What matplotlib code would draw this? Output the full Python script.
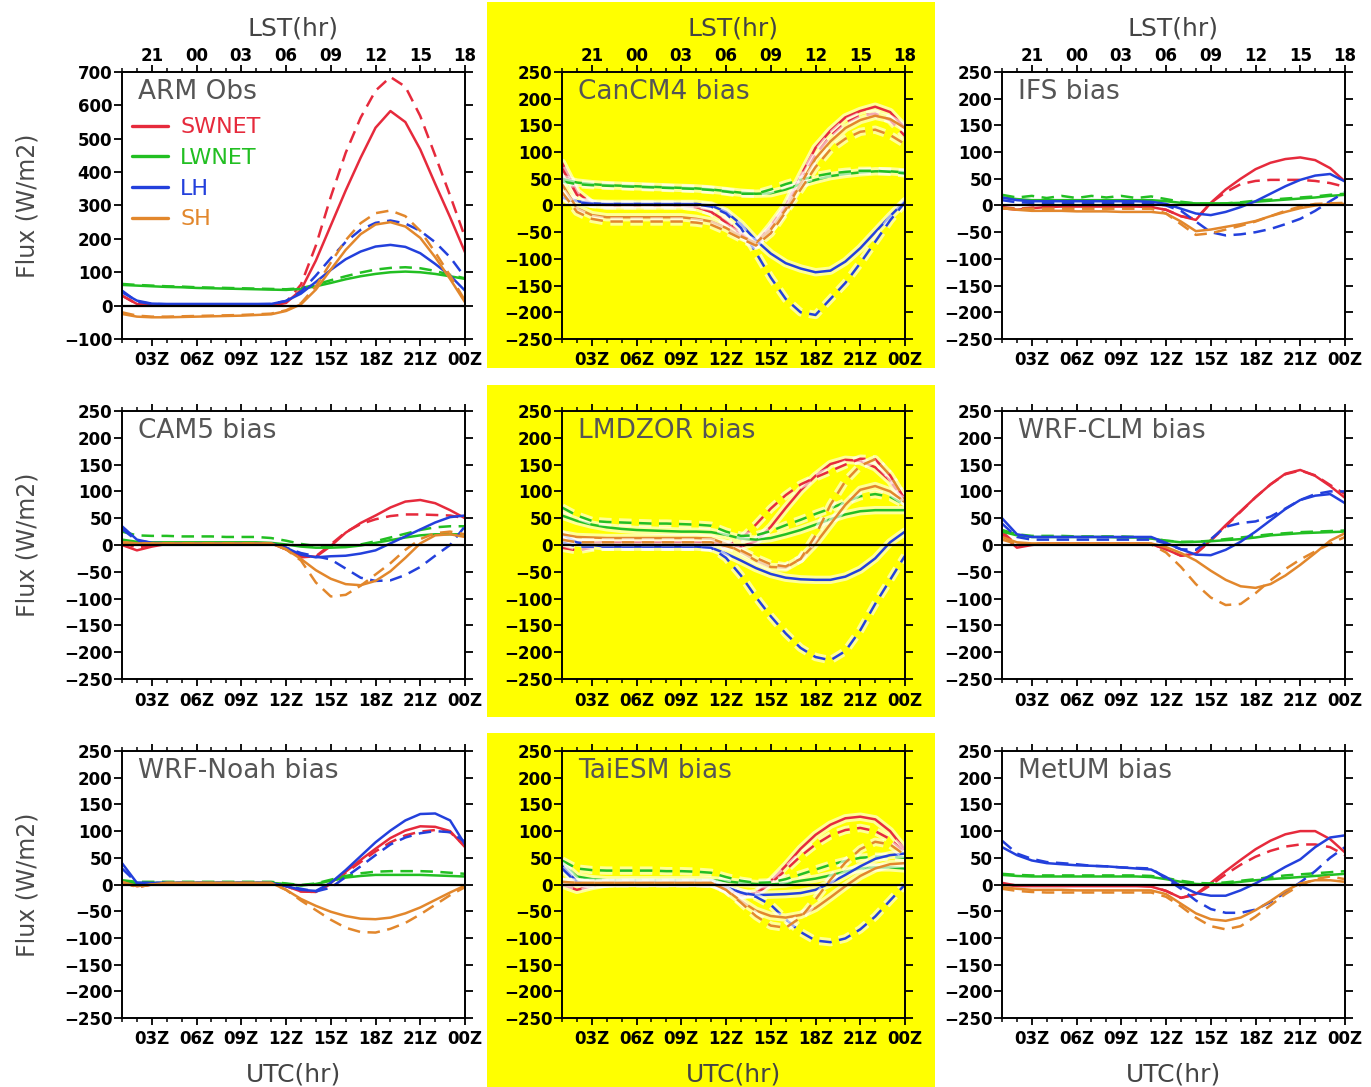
import matplotlib
matplotlib.use("Agg")
import matplotlib.pyplot as plt
import matplotlib.patheffects as pe
from matplotlib.patches import Rectangle

plt.rcParams["font.family"] = ["DejaVu Sans"]

# ---- data -----------------------------------------------------------------
hours = list(range(1, 25))                       # hourly means, UTC
utc_ticks = [3, 6, 9, 12, 15, 18, 21, 24]
utc_labels = ["03Z", "06Z", "09Z", "12Z", "15Z", "18Z", "21Z", "00Z"]
lst_labels = ["21", "00", "03", "06", "09", "12", "15", "18"]
variables = ["SWNET", "LWNET", "LH", "SH"]
var_colors = {"SWNET": "#e62a3c", "LWNET": "#22bf22", "LH": "#2340dc", "SH": "#e2872c"}

arm_solid = {
    "SWNET": [30, 5, 0, 0, 0, 0, 0, 0, 0, 0, 0, 8, 47, 135, 240, 345, 443, 533, 583, 550, 468, 365, 265, 160],
    "LWNET": [62, 60, 58, 56, 55, 53, 52, 51, 50, 49, 48, 47, 50, 58, 68, 79, 88, 95, 100, 102, 100, 95, 88, 80],
    "LH": [40, 15, 6, 5, 5, 5, 5, 5, 5, 5, 5, 14, 36, 71, 107, 139, 162, 177, 182, 176, 157, 125, 90, 45],
    "SH": [-25, -33, -35, -35, -34, -33, -32, -31, -30, -28, -26, -16, 4, 48, 108, 167, 214, 243, 250, 237, 203, 145, 80, 10],
}
arm_dashed = {
    "SWNET": [30, 5, 0, 0, 0, 0, 0, 0, 0, 0, 0, 10, 63, 180, 326, 458, 563, 644, 685, 656, 568, 450, 330, 205],
    "LWNET": [65, 62, 60, 58, 57, 55, 54, 53, 52, 51, 50, 49, 52, 63, 76, 88, 99, 108, 113, 115, 112, 104, 92, 82],
    "LH": [45, 12, 5, 4, 4, 4, 4, 4, 4, 4, 5, 14, 42, 90, 142, 191, 227, 248, 255, 246, 224, 190, 145, 85],
    "SH": [-20, -30, -33, -33, -32, -31, -30, -29, -28, -26, -24, -14, 7, 58, 129, 196, 247, 277, 285, 268, 224, 160, 90, 15],
}

cancm4_solid = {
    "SWNET": [80, 25, 3, 0, 0, 0, 0, 0, 0, -3, -12, -30, -52, -72, -38, 0, 55, 108, 140, 165, 177, 185, 175, 145],
    "LWNET": [50, 43, 40, 38, 37, 36, 35, 34, 33, 32, 30, 27, 24, 22, 23, 30, 40, 48, 55, 59, 62, 64, 64, 62],
    "LH": [20, 8, 4, 3, 3, 3, 3, 3, 3, 3, 0, -12, -35, -65, -90, -108, -118, -125, -122, -105, -80, -50, -20, 8],
    "SH": [40, -5, -18, -22, -22, -22, -22, -22, -22, -25, -30, -42, -58, -70, -45, -8, 40, 88, 120, 145, 160, 168, 162, 145],
}
cancm4_dashed = {
    "SWNET": [70, 20, 3, 0, 0, 0, 0, 0, 0, -3, -12, -32, -55, -75, -45, -5, 45, 95, 130, 155, 168, 172, 160, 130],
    "LWNET": [45, 40, 38, 37, 36, 35, 34, 33, 32, 31, 29, 26, 22, 22, 30, 40, 48, 55, 60, 63, 65, 65, 63, 60],
    "LH": [15, 6, 3, 2, 2, 2, 2, 2, 2, 2, -2, -15, -42, -88, -135, -175, -200, -205, -175, -145, -108, -68, -28, 6],
    "SH": [25, -12, -25, -30, -30, -30, -30, -30, -30, -32, -36, -48, -62, -75, -52, -12, 30, 72, 105, 125, 138, 142, 132, 115],
}

ifs_solid = {
    "SWNET": [-5, -8, -5, -3, -2, -2, -2, -2, -2, -2, -3, -8, -20, -27, 5, 30, 50, 68, 80, 87, 90, 85, 70, 45],
    "LWNET": [15, 12, 10, 10, 10, 10, 10, 10, 10, 10, 10, 8, 5, 4, 4, 4, 5, 7, 9, 11, 13, 15, 18, 20],
    "LH": [15, 10, 8, 8, 8, 8, 8, 8, 8, 8, 7, 3, -6, -15, -18, -12, -3, 8, 22, 36, 48, 56, 59, 45],
    "SH": [-5, -8, -10, -10, -10, -11, -11, -11, -12, -12, -12, -15, -30, -48, -45, -40, -35, -29, -20, -12, -5, 0, 3, 3],
}
ifs_dashed = {
    "SWNET": [-3, -6, -4, -3, -2, -2, -2, -2, -2, -2, -3, -8, -20, -25, 5, 25, 40, 46, 48, 48, 48, 46, 42, 35],
    "LWNET": [20, 15, 18, 14, 18, 14, 18, 15, 18, 14, 17, 12, 7, 4, 3, 4, 6, 9, 11, 13, 15, 17, 20, 22],
    "LH": [10, 6, 5, 5, 5, 5, 5, 5, 5, 5, 4, 0, -10, -30, -50, -56, -54, -50, -44, -35, -25, -10, 8, 25],
    "SH": [-5, -6, -6, -6, -6, -6, -6, -6, -6, -6, -6, -15, -35, -55, -52, -45, -38, -30, -20, -10, -2, 3, 4, 5],
}

cam5_solid = {
    "SWNET": [0, -10, -3, 2, 3, 3, 3, 3, 3, 3, 3, -8, -20, -22, -2, 23, 41, 55, 70, 81, 84, 78, 65, 50],
    "LWNET": [10, 6, 5, 5, 5, 5, 5, 5, 5, 5, 4, 1, -3, -5, -5, -4, -1, 4, 9, 14, 18, 20, 20, 20],
    "LH": [35, 10, 4, 3, 3, 3, 3, 3, 3, 3, 3, -5, -18, -23, -21, -20, -16, -10, 3, 16, 29, 42, 52, 55],
    "SH": [5, 3, 3, 3, 3, 3, 3, 3, 3, 3, 3, -8, -26, -47, -63, -73, -75, -67, -49, -24, 3, 18, 20, 15],
}
cam5_dashed = {
    "SWNET": [5, -5, 0, 2, 3, 3, 3, 3, 3, 3, 3, -8, -23, -21, 1, 24, 39, 48, 54, 57, 57, 56, 55, 50],
    "LWNET": [25, 18, 17, 17, 16, 16, 16, 15, 15, 15, 13, 8, 2, -2, -3, -2, 1, 7, 14, 21, 28, 33, 35, 35],
    "LH": [30, 8, 4, 3, 3, 3, 3, 3, 3, 3, 3, -5, -15, -21, -27, -44, -61, -67, -66, -56, -41, -20, 0, 35],
    "SH": [5, 3, 3, 3, 3, 3, 3, 3, 3, 3, 3, -8, -29, -70, -96, -93, -76, -55, -34, -9, 11, 22, 25, 20],
}

lmdzor_solid = {
    "SWNET": [10, 5, 5, 5, 5, 5, 5, 5, 5, 5, 5, 2, -3, 7, 34, 69, 102, 129, 151, 159, 157, 145, 120, 80],
    "LWNET": [55, 45, 38, 33, 30, 28, 27, 26, 25, 25, 24, 19, 12, 10, 13, 20, 28, 38, 48, 57, 63, 65, 65, 65],
    "LH": [20, 5, 0, -3, -3, -3, -3, -3, -3, -3, -5, -16, -29, -43, -54, -61, -64, -65, -65, -59, -46, -25, 5, 25],
    "SH": [20, 15, 14, 13, 13, 13, 13, 13, 13, 13, 12, 2, -13, -29, -41, -42, -26, 3, 39, 75, 103, 110, 100, 80],
}
lmdzor_dashed = {
    "SWNET": [-5, -10, -5, -3, -3, -3, -3, -3, -3, -3, -3, -2, 11, 38, 68, 93, 113, 126, 138, 150, 161, 160, 130, 85],
    "LWNET": [70, 55, 45, 43, 42, 41, 40, 40, 39, 38, 36, 25, 17, 18, 26, 37, 47, 58, 68, 80, 91, 95, 90, 75],
    "LH": [5, -3, -3, -3, -3, -3, -3, -3, -3, -3, -5, -24, -57, -97, -133, -165, -192, -209, -215, -198, -159, -110, -65, -20],
    "SH": [10, 5, 5, 5, 5, 5, 5, 5, 5, 5, 5, -2, -10, -24, -36, -40, -26, 18, 75, 119, 148, 160, 130, 85],
}

wrfclm_solid = {
    "SWNET": [20, -5, 0, 3, 3, 3, 3, 3, 3, 3, 2, -8, -20, -16, 9, 37, 63, 89, 113, 133, 140, 129, 110, 88],
    "LWNET": [25, 18, 15, 15, 15, 15, 15, 15, 14, 14, 12, 8, 5, 6, 7, 9, 11, 14, 18, 20, 22, 23, 24, 25],
    "LH": [50, 20, 15, 15, 15, 15, 15, 15, 15, 15, 15, 4, -8, -18, -19, -9, 6, 25, 46, 67, 84, 92, 95, 78],
    "SH": [15, 5, 3, 3, 3, 3, 3, 3, 3, 3, 3, -4, -15, -29, -48, -65, -77, -80, -73, -57, -37, -15, 8, 22],
}
wrfclm_dashed = {
    "SWNET": [25, 0, 2, 3, 3, 3, 3, 3, 3, 3, 2, -8, -20, -16, 8, 35, 62, 89, 113, 132, 139, 130, 112, 95],
    "LWNET": [28, 20, 17, 17, 17, 16, 16, 16, 16, 15, 13, 8, 6, 6, 8, 11, 14, 17, 20, 22, 24, 25, 26, 27],
    "LH": [40, 15, 10, 10, 10, 10, 10, 10, 10, 10, 10, 3, -8, -9, 11, 34, 41, 44, 53, 68, 84, 95, 100, 100],
    "SH": [10, 2, 1, 1, 1, 1, 1, 1, 1, 1, 1, -14, -41, -73, -98, -112, -110, -90, -66, -45, -27, -12, 2, 15],
}

wrfnoah_solid = {
    "SWNET": [5, -3, 0, 2, 3, 3, 3, 3, 3, 3, 2, -3, -13, -14, 3, 24, 46, 67, 87, 101, 109, 108, 100, 70],
    "LWNET": [5, 3, 3, 3, 3, 3, 3, 3, 3, 3, 3, 1, -2, 1, 7, 13, 16, 18, 18, 18, 18, 17, 16, 15],
    "LH": [40, 3, 3, 3, 3, 3, 3, 3, 3, 3, 3, -3, -10, -12, 3, 27, 53, 79, 101, 120, 132, 133, 120, 75],
    "SH": [5, -3, 0, 3, 3, 3, 3, 3, 3, 3, 3, -10, -27, -40, -51, -59, -64, -65, -62, -54, -43, -29, -15, -2],
}
wrfnoah_dashed = {
    "SWNET": [5, -5, 0, 2, 3, 3, 3, 3, 3, 3, 2, -3, -13, -14, 1, 22, 42, 62, 79, 92, 99, 102, 98, 72],
    "LWNET": [8, 5, 5, 5, 5, 5, 5, 5, 5, 5, 5, 2, -1, 2, 9, 16, 21, 24, 25, 25, 25, 24, 22, 20],
    "LH": [30, 3, 3, 3, 3, 3, 3, 3, 3, 3, 3, -3, -8, -13, -6, 14, 34, 55, 75, 88, 96, 100, 98, 80],
    "SH": [5, -5, 0, 3, 3, 3, 3, 3, 3, 3, 3, -10, -30, -48, -66, -81, -89, -90, -83, -72, -56, -38, -20, -5],
}

taiesm_solid = {
    "SWNET": [0, -10, -3, 2, 3, 3, 3, 3, 3, 3, 2, -8, -20, -16, 6, 35, 67, 93, 112, 124, 127, 122, 100, 65],
    "LWNET": [40, 15, 10, 8, 8, 8, 8, 8, 8, 8, 8, 6, 3, 1, 0, 2, 7, 11, 17, 24, 30, 32, 32, 30],
    "LH": [35, 5, 0, 2, 3, 3, 3, 3, 3, 3, 3, -5, -15, -20, -19, -18, -16, -10, 3, 18, 34, 48, 55, 58],
    "SH": [5, 3, 3, 3, 3, 3, 3, 3, 3, 3, 3, -10, -31, -49, -59, -62, -57, -44, -24, -3, 16, 30, 38, 40],
}
taiesm_dashed = {
    "SWNET": [5, -5, 0, 2, 3, 3, 3, 3, 3, 3, 2, -8, -20, -17, 2, 27, 53, 75, 92, 102, 106, 100, 85, 60],
    "LWNET": [45, 30, 27, 26, 26, 26, 26, 25, 25, 24, 22, 14, 7, 3, 4, 10, 19, 28, 37, 44, 50, 52, 52, 50],
    "LH": [30, 3, 2, 2, 2, 2, 2, 2, 2, 2, 2, -5, -15, -23, -38, -65, -89, -105, -108, -101, -84, -60, -30, 0],
    "SH": [5, 3, 3, 3, 3, 3, 3, 3, 3, 3, 3, -10, -34, -59, -77, -81, -62, -28, 9, 41, 66, 80, 75, 55],
}

metum_solid = {
    "SWNET": [0, -3, -3, -3, -3, -3, -3, -3, -3, -3, -4, -12, -25, -18, 3, 25, 46, 66, 82, 94, 100, 100, 85, 60],
    "LWNET": [18, 16, 15, 15, 15, 15, 15, 15, 15, 15, 14, 10, 5, 1, 0, 2, 5, 8, 10, 12, 14, 16, 18, 20],
    "LH": [70, 55, 45, 40, 38, 36, 35, 34, 32, 30, 28, 14, -3, -16, -21, -21, -11, 2, 17, 33, 47, 70, 88, 92],
    "SH": [-5, -8, -10, -10, -10, -11, -11, -11, -11, -11, -11, -18, -36, -54, -65, -68, -62, -48, -31, -12, 2, 8, 8, 5],
}
metum_dashed = {
    "SWNET": [3, -2, -2, -2, -2, -2, -2, -2, -2, -2, -3, -12, -25, -19, -1, 19, 37, 52, 63, 71, 75, 75, 70, 55],
    "LWNET": [20, 18, 17, 17, 17, 17, 17, 17, 17, 17, 16, 12, 7, 3, 2, 4, 7, 10, 14, 17, 19, 21, 23, 25],
    "LH": [82, 58, 48, 42, 40, 38, 35, 34, 32, 31, 30, 11, -8, -30, -46, -53, -53, -47, -33, -15, 4, 25, 50, 70],
    "SH": [-8, -12, -14, -15, -15, -15, -15, -15, -15, -15, -15, -23, -41, -62, -78, -84, -78, -60, -39, -18, -1, 10, 15, 10],
}

panel_titles = ["ARM Obs", "CanCM4 bias", "IFS bias",
                "CAM5 bias", "LMDZOR bias", "WRF-CLM bias",
                "WRF-Noah bias", "TaiESM bias", "MetUM bias"]
panel_solid = [arm_solid, cancm4_solid, ifs_solid,
               cam5_solid, lmdzor_solid, wrfclm_solid,
               wrfnoah_solid, taiesm_solid, metum_solid]
panel_dashed = [arm_dashed, cancm4_dashed, ifs_dashed,
                cam5_dashed, lmdzor_dashed, wrfclm_dashed,
                wrfnoah_dashed, taiesm_dashed, metum_dashed]

# ---- layout (pixels) ----------------------------------------------------------
W, H = 1371, 1087
col_left = [122, 562, 1002]
ax_w = 343
row_top = [72, 411, 751]
row_bottom = [339, 679, 1018]
yellow_rows = [(2, 368), (385, 717), (733, 1087)]
yellow_x = (487, 935)
YELLOW = "#ffff00"

fig = plt.figure(figsize=(W / 100, H / 100), dpi=100)

for (y0, y1) in yellow_rows:
    fig.add_artist(Rectangle((yellow_x[0] / W, 1 - y1 / H),
                             (yellow_x[1] - yellow_x[0]) / W, (y1 - y0) / H,
                             transform=fig.transFigure, facecolor=YELLOW,
                             edgecolor="none", zorder=-10))

dash = (0, (5, 3))

for idx in range(9):
    r, c = divmod(idx, 3)
    ax = fig.add_axes([col_left[c] / W, 1 - row_bottom[r] / H,
                       ax_w / W, (row_bottom[r] - row_top[r]) / H])
    highlighted = (c == 1)
    if highlighted:
        ax.set_facecolor(YELLOW)
        halo = [pe.Stroke(linewidth=6, foreground="white", alpha=0.6), pe.Normal()]
    else:
        halo = None

    solid = panel_solid[idx]
    dashed = panel_dashed[idx]
    handles = []
    for v in variables:
        h, = ax.plot(hours, solid[v], color=var_colors[v], lw=1.8,
                     solid_capstyle="round", path_effects=halo, label=v)
        ax.plot(hours, dashed[v], color=var_colors[v], lw=1.8, ls=dash,
                path_effects=halo)
        handles.append(h)
    ax.axhline(0, color="black", lw=1.6, zorder=3)

    ax.set_xlim(1, 24)
    if idx == 0:
        ax.set_ylim(-100, 700)
        ax.set_yticks(range(-100, 701, 100))
    else:
        ax.set_ylim(-250, 250)
        ax.set_yticks(range(-250, 251, 50))

    ax.set_xticks(utc_ticks)
    ax.set_xticklabels(utc_labels)
    ax.set_xticks(hours, minor=True)
    ax.tick_params(axis="x", which="major", direction="out", length=5, width=1.3,
                   top=True, bottom=True, pad=4)
    ax.tick_params(axis="x", which="minor", direction="out", length=3, width=1.1,
                   top=True, bottom=True)
    ax.tick_params(axis="y", which="major", direction="out", length=6, width=1.3,
                   left=True, right=True, pad=1)
    for lab in ax.get_xticklabels() + ax.get_yticklabels():
        lab.set_fontsize(12)
        lab.set_fontweight("bold")
    for sp in ax.spines.values():
        sp.set_linewidth(1.4)

    ax.text(0.047, 0.925, panel_titles[idx], transform=ax.transAxes,
            fontsize=19, color="#555555", ha="left", va="center")

    if r == 0:
        sec = ax.secondary_xaxis("top")
        sec.set_xticks(utc_ticks)
        sec.set_xticklabels(lst_labels)
        sec.tick_params(length=0, pad=5)
        for lab in sec.get_xticklabels():
            lab.set_fontsize(12)
            lab.set_fontweight("bold")
        sec.spines["top"].set_visible(False)
        sec.set_xlabel("LST(hr)", fontsize=18, color="#444444", labelpad=8)
    if r == 2:
        ax.set_xlabel("UTC(hr)", fontsize=18, color="#444444", labelpad=10)
    if c == 0:
        ax.set_ylabel("Flux (W/m2)", fontsize=17, color="#4a4a4a")
        ax.yaxis.set_label_coords(-0.24, 0.5)

    if idx == 0:
        leg = ax.legend(handles=handles, loc="upper left",
                        bbox_to_anchor=(0.03, 0.83), frameon=False,
                        fontsize=16, handlelength=1.6, handletextpad=0.55,
                        labelspacing=0.48, borderaxespad=0, borderpad=0,
                        labelcolor="linecolor")
        for line in leg.get_lines():
            line.set_linewidth(2.4)
            line.set_path_effects([])

fig.savefig("out.png", dpi=100)
